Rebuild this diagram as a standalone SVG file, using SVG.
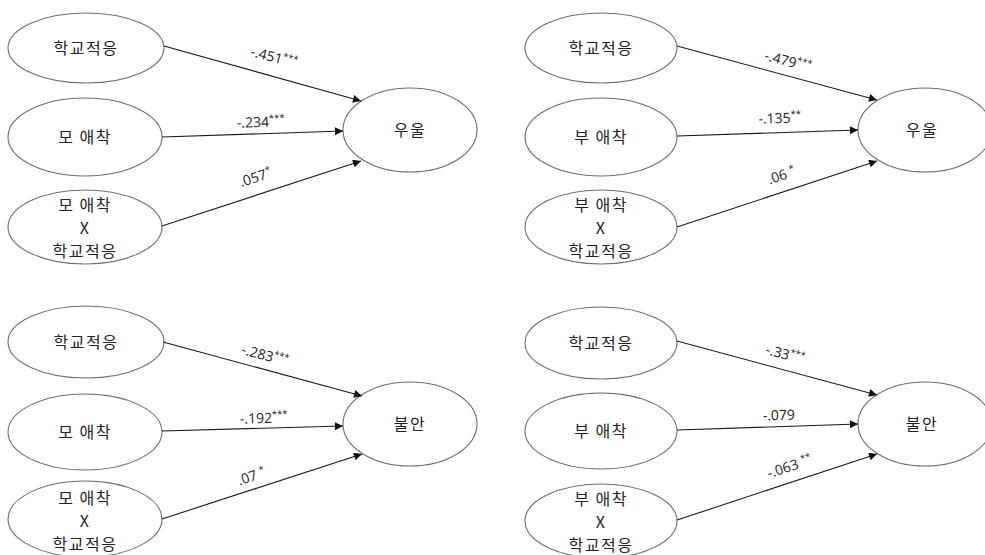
<svg xmlns="http://www.w3.org/2000/svg" width="985" height="555" viewBox="0 0 985 555">
<style>
.bg{fill:#ffffff}
.node ellipse{fill:#ffffff;stroke:#6e6e6e;stroke-width:1.1}
.node text{font-family:"Noto Sans CJK KR","Noto Sans",sans-serif;font-size:16px;letter-spacing:1.5px;fill:#222;text-anchor:middle;dominant-baseline:central}
.edges line{stroke:#1a1a1a;stroke-width:1.1;marker-end:url(#ah)}
.lbl{font-family:"Open Sans","Noto Sans",sans-serif;font-size:14px;fill:#222;text-anchor:middle}
.sup{font-size:9.5px}
</style>
<defs>
<marker id="ah" viewBox="0 0 10 10" refX="10" refY="5" markerWidth="10" markerHeight="8" markerUnits="userSpaceOnUse" orient="auto">
<path d="M0,0 L10,5 L0,10 z" fill="#111"/>
</marker>
</defs>
<rect class="bg" x="0" y="0" width="985" height="555"/>

<!-- Top-left panel -->
<g id="tl-school" class="node"><ellipse cx="86" cy="48" rx="78" ry="35"/><text x="86" y="47">학교적응</text></g>
<g id="tl-mother" class="node"><ellipse cx="85" cy="137" rx="77" ry="39"/><text x="85" y="136">모 애착</text></g>
<g id="tl-inter" class="node"><ellipse cx="85" cy="227" rx="77" ry="37"/><text x="85" y="204">모 애착</text><text x="85" y="227">X</text><text x="85" y="250">학교적응</text></g>
<g id="tl-dep" class="node"><ellipse cx="410" cy="130" rx="67" ry="42"/><text x="410" y="129">우울</text></g>

<!-- Top-right panel -->
<g id="tr-school" class="node"><ellipse cx="601" cy="48" rx="76" ry="35"/><text x="601" y="47">학교적응</text></g>
<g id="tr-father" class="node"><ellipse cx="601" cy="137" rx="76" ry="39"/><text x="601" y="136">부 애착</text></g>
<g id="tr-inter" class="node"><ellipse cx="601" cy="227" rx="76" ry="37"/><text x="601" y="204">부 애착</text><text x="601" y="227">X</text><text x="601" y="250">학교적응</text></g>
<g id="tr-dep" class="node"><ellipse cx="925" cy="130" rx="67" ry="42"/><text x="922" y="129">우울</text></g>

<!-- Bottom-left panel -->
<g id="bl-school" class="node"><ellipse cx="86" cy="342" rx="78" ry="36"/><text x="86" y="341">학교적응</text></g>
<g id="bl-mother" class="node"><ellipse cx="85" cy="432" rx="77" ry="38"/><text x="85" y="431">모 애착</text></g>
<g id="bl-inter" class="node"><ellipse cx="85" cy="519" rx="77" ry="38"/><text x="85" y="497">모 애착</text><text x="85" y="520">X</text><text x="85" y="543">학교적응</text></g>
<g id="bl-anx" class="node"><ellipse cx="410" cy="424" rx="67" ry="42"/><text x="410" y="423">불안</text></g>

<!-- Bottom-right panel -->
<g id="br-school" class="node"><ellipse cx="601" cy="343" rx="76" ry="36"/><text x="601" y="342">학교적응</text></g>
<g id="br-father" class="node"><ellipse cx="601" cy="431" rx="76" ry="38"/><text x="601" y="430">부 애착</text></g>
<g id="br-inter" class="node"><ellipse cx="601" cy="521" rx="76" ry="37"/><text x="601" y="498">부 애착</text><text x="601" y="521">X</text><text x="601" y="544">학교적응</text></g>
<g id="br-anx" class="node"><ellipse cx="925" cy="424" rx="67" ry="42"/><text x="922" y="423">불안</text></g>

<g id="connectors" class="edges">
<line x1="164" y1="46" x2="361" y2="101"/>
<line x1="162" y1="137" x2="343" y2="131"/>
<line x1="162" y1="226" x2="361" y2="161"/>

<line x1="677" y1="46" x2="877" y2="100"/>
<line x1="677" y1="136" x2="858" y2="130"/>
<line x1="677" y1="227" x2="877" y2="161"/>

<line x1="163" y1="342" x2="362" y2="396"/>
<line x1="162" y1="431" x2="343" y2="426"/>
<line x1="162" y1="519" x2="362" y2="454"/>

<line x1="677" y1="341" x2="877" y2="395"/>
<line x1="677" y1="430" x2="858" y2="424"/>
<line x1="677" y1="520" x2="877" y2="454"/>
</g>

<g id="labels">
<text class="lbl" transform="translate(273,62) rotate(15)">-.451<tspan class="sup" dy="-5">***</tspan></text>
<text class="lbl" transform="translate(261,127) rotate(-2)">-.234<tspan class="sup" dy="-5">***</tspan></text>
<text class="lbl" transform="translate(257,182) rotate(-18)">.057<tspan class="sup" dy="-5">*</tspan></text>

<text class="lbl" transform="translate(787,66) rotate(15)">-.479<tspan class="sup" dy="-5">***</tspan></text>
<text class="lbl" transform="translate(780,123) rotate(-2)">-.135<tspan class="sup" dy="-5">**</tspan></text>
<text class="lbl" transform="translate(783,180) rotate(-18)">.06 <tspan class="sup" dy="-5">*</tspan></text>

<text class="lbl" transform="translate(264,360) rotate(15)">-.283<tspan class="sup" dy="-5">***</tspan></text>
<text class="lbl" transform="translate(264,423) rotate(-2)">-.192<tspan class="sup" dy="-5">***</tspan></text>
<text class="lbl" transform="translate(253,481) rotate(-18)">.07 <tspan class="sup" dy="-5">*</tspan></text>

<text class="lbl" transform="translate(784,359) rotate(15)">-.33<tspan class="sup" dy="-5">***</tspan></text>
<text class="lbl" transform="translate(779,420) rotate(-2)">-.079</text>
<text class="lbl" transform="translate(791,471) rotate(-18)">-.063 <tspan class="sup" dy="-5">**</tspan></text>
</g>
</svg>
